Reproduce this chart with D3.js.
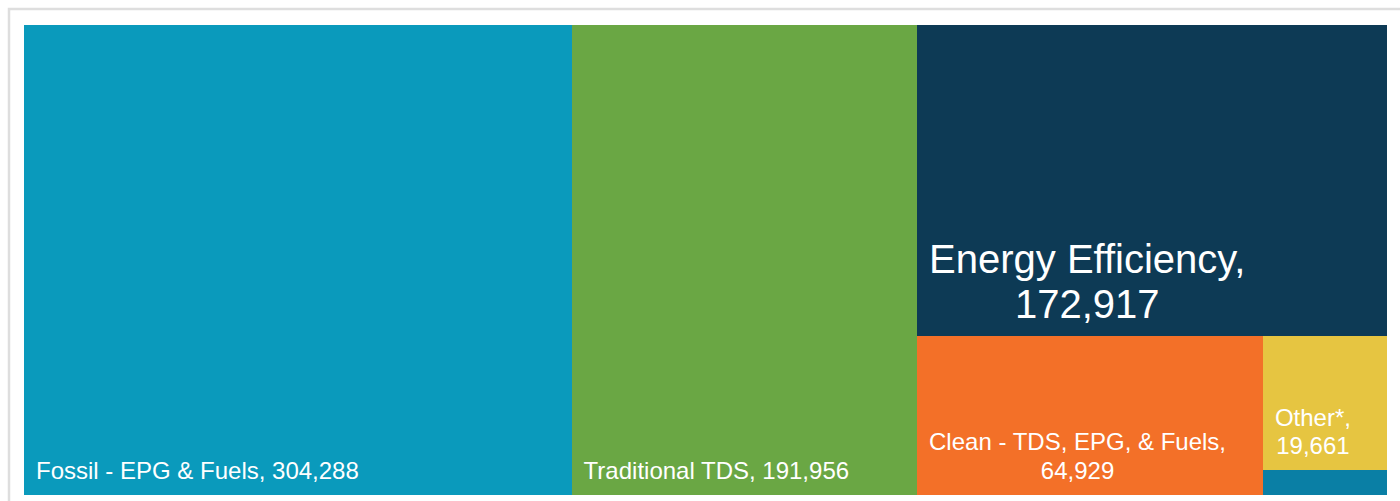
<!DOCTYPE html>
<html>
<head>
<meta charset="utf-8">
<script src="https://cdn.jsdelivr.net/npm/d3@7"></script>
<style>
  html, body { margin: 0; padding: 0; background: #fff; overflow: hidden; }
  svg { display: block; font-family: "Liberation Sans", Arial, sans-serif; }
</style>
</head>
<body>
<div id="chart"></div>
<script>
// categories and values
const names = ['Fossil - EPG & Fuels', 'Traditional TDS', 'Energy Efficiency', 'Clean - TDS, EPG, & Fuels', 'Other*', 'Nuclear']
const values = [304288, 191956, 172917, 64929, 19661, 3640]
const colors = ['#0a9abc', '#6aa744', '#0d3a55', '#f37028', '#e6c541', '#0a7fa5']
const bigLabel = 'Energy Efficiency'

const W = 1400
const H = 501
const box = { x0: 24, y0: 25, x1: 1387, y1: 495 }

const leaf = i => ({ name: names[i], value: values[i], color: colors[i] })
// first two sit side by side, the rest nest into the last column
const tree = {
  name: 'root',
  children: [leaf(0), leaf(1), {
    name: 'g1',
    children: [leaf(2), {
      name: 'g2',
      children: [leaf(3), { name: 'g3', children: [leaf(4), leaf(5)] }]
    }]
  }]
}

const root = d3.hierarchy(tree).sum(d => d.value || 0)
d3.treemap()
  .tile(d3.treemapSliceDice)
  .size([box.x1 - box.x0, box.y1 - box.y0])
  .paddingInner(0)(root)

const svg = d3.select('#chart').append('svg')
  .attr('width', W)
  .attr('height', H)

// light frame round the chart
svg.append('rect')
  .attr('x', 9).attr('y', 9)
  .attr('width', W + 20).attr('height', H + 20)
  .attr('fill', 'none')
  .attr('stroke', '#dedede')
  .attr('stroke-width', 2.5)

const g = svg.append('g').attr('transform', `translate(${box.x0},${box.y0})`)

const cells = g.selectAll('g.cell')
  .data(root.leaves())
  .join('g')
  .attr('class', 'cell')

cells.append('rect')
  .attr('x', d => d.x0)
  .attr('y', d => d.y0)
  .attr('width', d => d.x1 - d.x0)
  .attr('height', d => d.y1 - d.y0)
  .attr('fill', d => d.data.color)
  .attr('shape-rendering', 'crispEdges')

const fmt = d3.format(',')
const pad = 12

cells.each(function (d) {
  const w = d.x1 - d.x0
  const h = d.y1 - d.y0
  if (h < 40) return // too small for a label
  const fs = d.data.name === bigLabel ? 40 : 24
  const lh = fs === 40 ? 45 : 28.5
  const words = (d.data.name + ', ' + fmt(d.data.value)).split(' ')
  const text = d3.select(this).append('text')
    .attr('fill', '#fff')
    .attr('font-size', fs)
    .attr('text-anchor', 'middle')

  // greedy word wrap against the tile width
  const probe = text.append('tspan')
  const lines = []
  let cur = ''
  words.forEach(wd => {
    const test = cur ? cur + ' ' + wd : wd
    probe.text(test)
    if (cur && probe.node().getComputedTextLength() > w - 2 * pad) {
      lines.push(cur)
      cur = wd
    } else {
      cur = test
    }
  })
  lines.push(cur)
  const widths = lines.map(l => { probe.text(l); return probe.node().getComputedTextLength() })
  probe.remove()

  const blockW = d3.max(widths)
  const cx = d.x0 + pad + blockW / 2
  const lastBase = d.y1 - 13.5 - 0.11 * fs
  lines.forEach((l, i) => {
    text.append('tspan')
      .attr('x', cx)
      .attr('y', lastBase - (lines.length - 1 - i) * lh)
      .text(l)
  })
})
</script>
</body>
</html>
